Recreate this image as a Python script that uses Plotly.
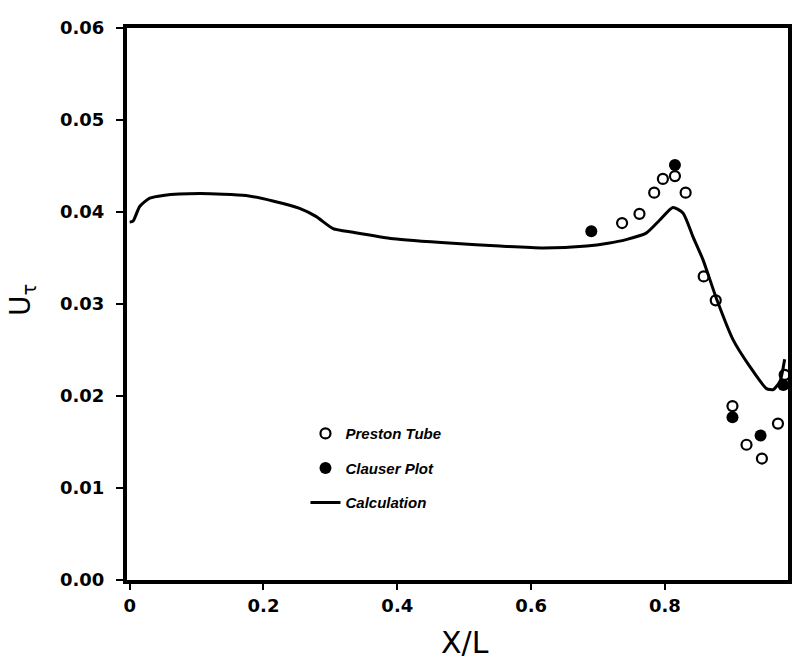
import plotly.graph_objects as go

# Calculation curve
calc_x = [0.0, 0.005, 0.015, 0.030, 0.050, 0.105, 0.174, 0.214, 0.254, 0.279, 0.304, 0.334,
          0.394, 0.483, 0.553, 0.618, 0.683, 0.715, 0.742, 0.772, 0.792, 0.812, 0.827, 0.842,
          0.857, 0.877, 0.902, 0.927, 0.952, 0.962, 0.972, 0.979]
calc_y = [0.0389, 0.0390, 0.0406, 0.0415, 0.0418, 0.0420, 0.0418, 0.0412, 0.0404, 0.0395, 0.0382, 0.0378,
          0.0371, 0.0366, 0.0363, 0.0361, 0.0363, 0.0366, 0.0370, 0.0377, 0.0391, 0.0405, 0.0399, 0.0373,
          0.0348, 0.0306, 0.0261, 0.0232, 0.0208, 0.0207, 0.0216, 0.0240]

# Preston Tube (open circles)
preston_x = [0.736, 0.762, 0.784, 0.797, 0.815, 0.831, 0.858, 0.876, 0.901, 0.922, 0.945, 0.969, 0.979]
preston_y = [0.0388, 0.0398, 0.0421, 0.0436, 0.0439, 0.0421, 0.0330, 0.0304, 0.0189, 0.0147, 0.0132, 0.0170, 0.0223]

# Clauser Plot (filled circles)
clauser_x = [0.690, 0.815, 0.901, 0.943, 0.977]
clauser_y = [0.0379, 0.0451, 0.0177, 0.0157, 0.0212]

x_ticks = [0, 0.2, 0.4, 0.6, 0.8]
x_tick_text = ["0", "0.2", "0.4", "0.6", "0.8"]
y_ticks = [0.00, 0.01, 0.02, 0.03, 0.04, 0.05, 0.06]
y_tick_text = ["0.00", "0.01", "0.02", "0.03", "0.04", "0.05", "0.06"]

fig = go.Figure()
fig.add_trace(go.Scatter(
    x=preston_x, y=preston_y, mode="markers", name="Preston Tube", legendgroup="a",
    marker=dict(symbol="circle-open", size=10, color="black", line=dict(width=2.2, color="black")),
))
fig.add_trace(go.Scatter(
    x=clauser_x, y=clauser_y, mode="markers", name="Clauser Plot", legendgroup="b",
    marker=dict(symbol="circle", size=12, color="black"),
))
fig.add_trace(go.Scatter(
    x=calc_x, y=calc_y, mode="lines", name="Calculation", legendgroup="c",
    line=dict(color="black", width=3, shape="spline", smoothing=0.6),
))

fig.update_layout(
    width=797, height=661,
    margin=dict(l=127, r=9, t=28, b=81),
    paper_bgcolor="white", plot_bgcolor="white",
    showlegend=True,
    legend=dict(
        x=0.27, y=0.295, xanchor="left", yanchor="top",
        font=dict(family="Liberation Sans", size=15, color="black", style="italic", weight="bold"),
        bgcolor="rgba(0,0,0,0)", tracegroupgap=12, traceorder="grouped",
    ),
    xaxis=dict(
        range=[-0.004, 0.984], tickvals=x_ticks, ticktext=x_tick_text,
        showgrid=False, zeroline=False, showline=True, linecolor="black", linewidth=4,
        mirror=True, ticks="outside", ticklen=6, tickwidth=2, tickcolor="black",
        automargin=False,
        tickfont=dict(family="DejaVu Sans", size=18, color="black", weight="bold"),
    ),
    yaxis=dict(
        range=[0, 0.06], tickvals=y_ticks, ticktext=y_tick_text,
        showgrid=False, zeroline=False, showline=True, linecolor="black", linewidth=4,
        mirror=True, ticks="outside", ticklen=7, tickwidth=2, tickcolor="black",
        ticklabelstandoff=8, automargin=False,
        tickfont=dict(family="DejaVu Sans", size=18, color="black", weight="bold"),
    ),
    annotations=[
        dict(text="1", xref="paper", yref="paper", x=(797 - 127) / 661, y=0, yshift=-22,
             showarrow=False, xanchor="left",
             font=dict(family="DejaVu Sans", size=18, color="black", weight="bold")),
        dict(text="X/L", xref="paper", yref="paper", x=(465 - 127) / 661, y=(661 - 642 - 81) / 552,
             showarrow=False, xanchor="center", yanchor="middle",
             font=dict(family="DejaVu Sans", size=30, color="black")),
        dict(text="U<sub>τ</sub>", xref="paper", yref="paper", x=(22 - 127) / 661, y=(580 - 300) / 552,
             showarrow=False, xanchor="center", yanchor="middle", textangle=-90,
             font=dict(family="DejaVu Sans", size=28, color="black")),
    ],
)

fig.write_html(
    "out.html",
    config={"displayModeBar": False},
    post_script="document.body.style.margin='0';document.body.style.padding='0';"
                "document.documentElement.style.overflow='hidden';",
)
